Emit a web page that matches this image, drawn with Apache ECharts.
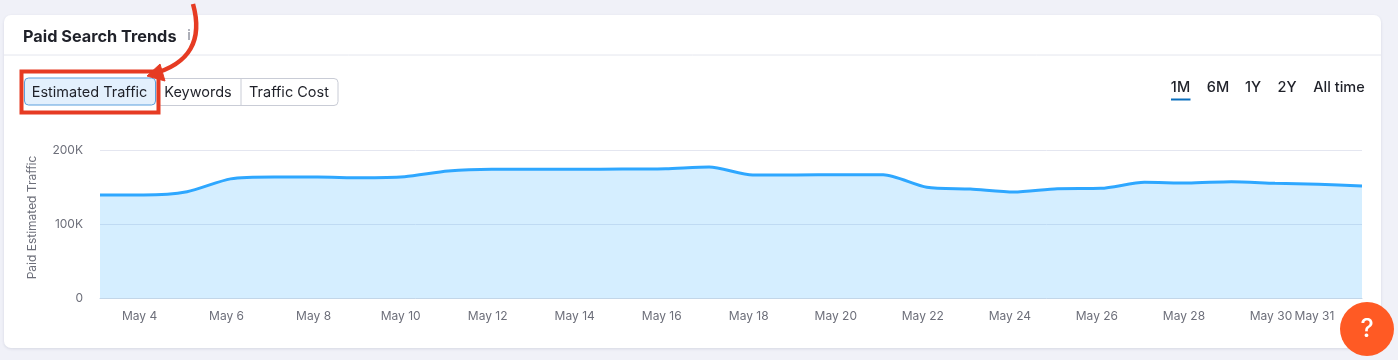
<!DOCTYPE html>
<html><head><meta charset="utf-8">
<style>html,body{margin:0;padding:0;background:#f0f1f8}#c{width:1398px;height:360px}</style>
<script src="https://cdn.jsdelivr.net/npm/echarts@6/dist/echarts.min.js"></script>
</head><body><div id="c"></div>
<script>
const categories = ['May 3','May 4','May 5','May 6','May 7','May 8','May 9','May 10','May 11','May 12','May 13','May 14','May 15','May 16','May 17','May 18','May 19','May 20','May 21','May 22','May 23','May 24','May 25','May 26','May 27','May 28','May 29','May 30','May 31','Jun 1'];
const trafficValues = [139200,139200,143600,161000,163500,163500,162500,164000,171600,173900,173900,173900,174300,174800,177000,166200,166200,166600,166600,149600,147300,143200,147700,148200,156300,155400,157200,155000,153600,151400];
const shownTickLabels = ['May 4','May 6','May 8','May 10','May 12','May 14','May 16','May 18','May 20','May 22','May 24','May 26','May 28','May 30','May 31'];
const yTicks = {min:0,max:200000,interval:100000};
const metricTabs = ['Estimated Traffic','Keywords','Traffic Cost'];
const ranges = ['1M','6M','1Y','2Y','All time'];

const FONT='Inter, "Noto Sans", sans-serif';
const INK='#1f2129';
const tabCenters=[89.5,198,289];
const rangeX=[1180.5,1218,1253,1287,1339];
const RED='#e63b23';
function txt(t,x,y,o){return {type:'text',z:o&&o.z||5,style:Object.assign({text:t,x:x,y:y,fill:INK,font:'400 14.5px '+FONT,textAlign:'center',textVerticalAlign:'middle'},o&&o.s)}}

const g=[
 {type:'rect',z:-2,shape:{x:4,y:15,width:1377,height:333,r:7},style:{fill:'#fff',shadowColor:'rgba(30,40,80,0.12)',shadowBlur:3,shadowOffsetY:1}},
 {type:'line',z:-1,shape:{x1:4,y1:55,x2:1381,y2:55},style:{stroke:'#e4e6ee',lineWidth:1}},
 txt('Paid Search Trends',23,37,{s:{font:'700 16.3px '+FONT,textAlign:'left'}}),
 txt('i',189,36,{s:{font:'700 13px '+FONT,fill:'#a9abb5'}}),
 // tabs
 {type:'rect',z:3,shape:{x:157,y:78.5,width:181,height:27,r:4},style:{fill:'#fff',stroke:'#c9ccd6',lineWidth:1}},
 {type:'line',z:3,shape:{x1:241,y1:78,x2:241,y2:105},style:{stroke:'#c9ccd6',lineWidth:1}},
 {type:'rect',z:4,shape:{x:24.5,y:78,width:131,height:27,r:4},style:{fill:'#e3f0fd',stroke:'#5a9fdd',lineWidth:1}},
 ...metricTabs.map((t,i)=>txt(t,tabCenters[i],93,{})),
 // ranges
 ...ranges.map((t,i)=>txt(t,rangeX[i],87.5,{s:{font:'500 14.5px '+FONT}})),
 {type:'rect',z:5,shape:{x:1171,y:98.5,width:19.5,height:2},style:{fill:'#0a6ebd'}},
 // annotation
 {type:'rect',z:50,shape:{x:21.5,y:71.5,width:137,height:41},style:{fill:'none',stroke:RED,lineWidth:4}},
 {type:'bezierCurve',z:51,shape:{x1:193,y1:4,cpx1:203,cpy1:40,cpx2:190,cpy2:64,x2:152,y2:74},style:{fill:'none',stroke:RED,lineWidth:4.5}},
 {type:'polygon',z:52,shape:{points:[[147,76],[160,64],[165,81]]},style:{fill:RED,stroke:RED,lineWidth:1,lineJoin:'round'}},
 // help
 {type:'circle',z:60,shape:{cx:1367,cy:329,r:27},style:{fill:'#ff5a24'}},
 txt('?',1367,329.5,{z:61,s:{font:'500 25px '+FONT,fill:'#fff'}})
];

const chart=echarts.init(document.getElementById('c'),null,{renderer:'canvas'});
chart.setOption({
 animation:false,
 backgroundColor:'#f0f1f8',
 graphic:g,
 grid:{left:100,right:36,top:150,bottom:62,containLabel:false},
 tooltip:{show:false},
 xAxis:{type:'category',boundaryGap:false,data:categories,
  axisLine:{show:true,lineStyle:{color:'#c3d6e8',width:1}},axisTick:{show:false},splitLine:{show:false},
  axisLabel:{interval:(i,v)=>shownTickLabels.includes(v),color:'#6d6f7a',fontFamily:FONT,fontSize:12,margin:12,padding:[0,8,0,0],hideOverlap:false}},
 yAxis:{type:'value',min:yTicks.min,max:yTicks.max,interval:yTicks.interval,
  name:'Paid Estimated Traffic',nameLocation:'middle',nameRotate:90,nameGap:62,
  nameTextStyle:{color:'#6d6f7a',fontFamily:FONT,fontSize:12,padding:[0,0,0,13]},
  axisLine:{show:false},axisTick:{show:false},
  splitLine:{show:true,lineStyle:{color:'#e4e6f0',width:1}},
  axisLabel:{margin:17,color:'#6d6f7a',fontFamily:FONT,fontSize:12,formatter:v=>v===0?'0':(v/1000)+'K'}},
 series:[{type:'line',data:trafficValues,smooth:0.25,showSymbol:false,symbol:'none',
  lineStyle:{color:'#2ea7ff',width:3},
  areaStyle:{color:'#2fa8ff',opacity:0.2}}]
});
</script></body></html>
